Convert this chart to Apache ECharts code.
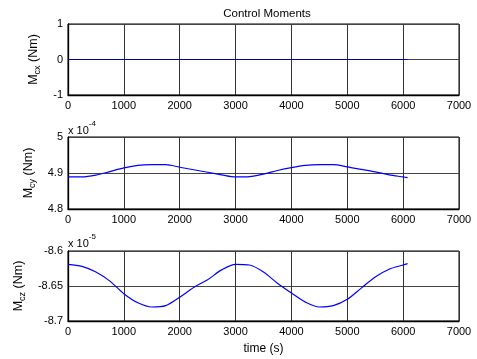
<!DOCTYPE html>
<html>
<head>
<meta charset="utf-8">
<script src="https://cdn.jsdelivr.net/npm/echarts@6/dist/echarts.min.js"></script>
<style>
  html, body { margin: 0; padding: 0; background: #fff; }
  #main { width: 477px; height: 359px; }
</style>
</head>
<body>
<div id="main"></div>
<script>
// time samples (s)
var times = [0, 250, 500, 750, 1000, 1250, 1500, 1750, 2000, 2250, 2500, 2750, 3000,
  3250, 3500, 3750, 4000, 4250, 4500, 4750, 5000, 5250, 5500, 5750, 6000, 6080];
// Mcx (Nm)
var mcx = [0, 0, 0, 0, 0, 0, 0, 0, 0, 0, 0, 0, 0, 0, 0, 0, 0, 0, 0, 0, 0, 0, 0, 0, 0, 0];
// Mcy (x 1e-4 Nm)
var mcy = [4.889, 4.889, 4.894, 4.904, 4.914, 4.921, 4.923, 4.923, 4.916, 4.909, 4.902, 4.895, 4.889,
  4.890, 4.897, 4.907, 4.915, 4.921, 4.923, 4.923, 4.917, 4.910, 4.903, 4.895, 4.889, 4.887];
// Mcz (x 1e-5 Nm)
var mcz = [-8.619, -8.622, -8.630, -8.643, -8.661, -8.674, -8.680, -8.678, -8.666, -8.652, -8.641, -8.627, -8.619,
  -8.620, -8.630, -8.646, -8.660, -8.673, -8.680, -8.678, -8.669, -8.653, -8.637, -8.626, -8.620, -8.618];

var yNames = ['cx', 'cy', 'cz'];
var yRanges = [[-1, 1, 1], [4.8, 5, 0.1], [-8.7, -8.6, 0.05]];
var gridTops = [24, 137, 251];
var gridHeights = [71, 72, 70];
var nameGaps = [19, 26, 40];

var font = 'Liberation Sans, Arial, Helvetica, sans-serif';

function pairs(ys) {
  return times.map(function (t, i) { return [t, ys[i]]; });
}

var chart = echarts.init(document.getElementById('main'));

var grids = [], xAxes = [], yAxes = [];
for (var i = 0; i < 3; i++) {
  grids.push({ left: 68, top: gridTops[i], width: 391, height: gridHeights[i],
    show: true, borderColor: '#000', borderWidth: 1 });
  xAxes.push({
    gridIndex: i, type: 'value', min: 0, max: 7000, interval: 1000,
    axisLine: { show: true, onZero: false, lineStyle: { color: '#000', width: 1.3 } },
    axisTick: { show: false },
    axisLabel: { color: '#000', fontSize: 11, fontFamily: font, margin: 5,
      formatter: function (v) { return String(v); } },
    splitLine: { show: true, lineStyle: { color: '#333', width: 1 } },
    name: i === 2 ? 'time (s)' : '',
    nameLocation: 'middle', nameGap: 22,
    nameTextStyle: { color: '#000', fontSize: 12, fontFamily: font }
  });
  yAxes.push({
    gridIndex: i, type: 'value',
    min: yRanges[i][0], max: yRanges[i][1], interval: yRanges[i][2],
    axisLine: { show: true, lineStyle: { color: '#000', width: 1.3 } },
    axisTick: { show: false },
    axisLabel: { color: '#000', fontSize: 11, fontFamily: font, margin: 5 },
    splitLine: { show: true, lineStyle: { color: '#444', width: 1 } },
    name: '{m|M}{s|' + yNames[i] + '}{m| (Nm)}',
    nameLocation: 'middle', nameGap: nameGaps[i],
    nameTextStyle: {
      color: '#000', fontFamily: font,
      rich: {
        m: { fontSize: 12.5, fontFamily: font, color: '#000', lineHeight: 17, verticalAlign: 'middle' },
        s: { fontSize: 9, fontFamily: font, color: '#000', lineHeight: 17, verticalAlign: 'bottom', padding: [7, 0, 0, 0] }
      }
    }
  });
}

var option = {
  backgroundColor: '#fff',
  animation: false,
  title: {
    text: 'Control Moments', left: 262, top: 3, textAlign: 'center',
    textStyle: { color: '#000', fontSize: 11.5, fontWeight: 'normal', fontFamily: font }
  },
  grid: grids,
  xAxis: xAxes,
  yAxis: yAxes,
  graphic: [
    { type: 'text', left: 68, top: 120,
      style: { text: '{a|x 10}{b|-4}', fill: '#000',
        rich: { a: { fontSize: 11, fontFamily: font, lineHeight: 16, verticalAlign: 'bottom' },
                b: { fontSize: 8, fontFamily: font, lineHeight: 16, verticalAlign: 'top' } } } },
    { type: 'text', left: 68, top: 233,
      style: { text: '{a|x 10}{b|-5}', fill: '#000',
        rich: { a: { fontSize: 11, fontFamily: font, lineHeight: 16, verticalAlign: 'bottom' },
                b: { fontSize: 8, fontFamily: font, lineHeight: 16, verticalAlign: 'top' } } } }
  ],
  series: [
    { type: 'line', xAxisIndex: 0, yAxisIndex: 0, data: pairs(mcx), showSymbol: false,
      lineStyle: { color: '#0000a0', width: 1.2 } },
    { type: 'line', xAxisIndex: 1, yAxisIndex: 1, data: pairs(mcy), showSymbol: false, smooth: 0.3,
      lineStyle: { color: '#0000ff', width: 1.2 } },
    { type: 'line', xAxisIndex: 2, yAxisIndex: 2, data: pairs(mcz), showSymbol: false, smooth: 0.3,
      lineStyle: { color: '#0000ff', width: 1.2 } }
  ]
};

chart.setOption(option);
</script>
</body>
</html>
